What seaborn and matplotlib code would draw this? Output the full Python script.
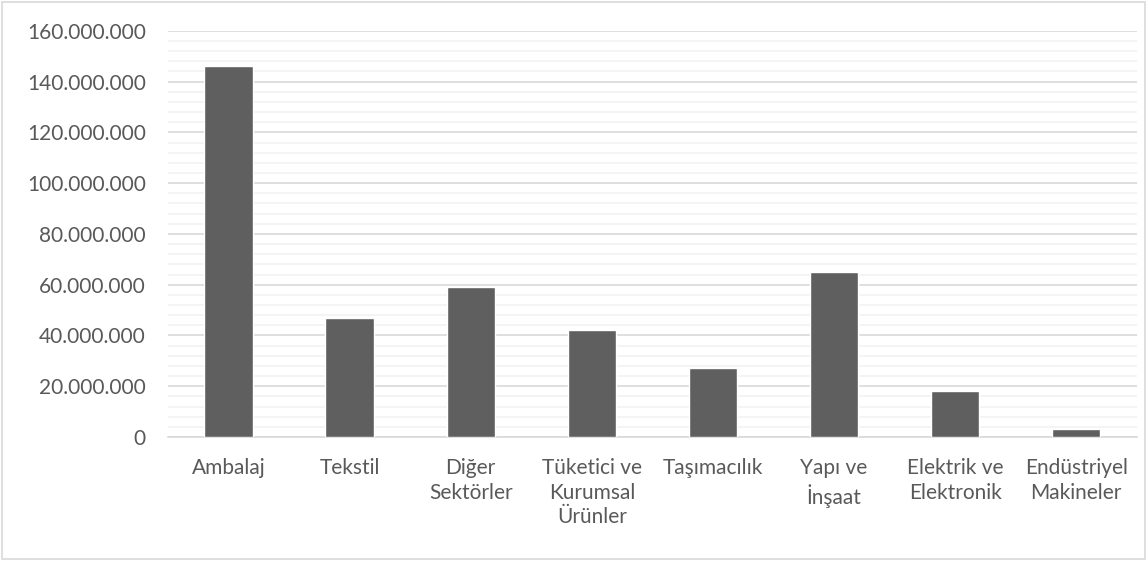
import matplotlib
matplotlib.use("Agg")
import matplotlib.pyplot as plt
import matplotlib.patches as mpatches
from matplotlib.ticker import MultipleLocator, FuncFormatter
import seaborn as sns
import pandas as pd

categories = [
    "Ambalaj",
    "Tekstil",
    "Diğer\nSektörler",
    "Tüketici ve\nKurumsal\nÜrünler",
    "Taşımacılık",
    "Yapı ve\nİnşaat",
    "Elektrik ve\nElektronik",
    "Endüstriyel\nMakineler",
]
values = [146_000_000, 47_000_000, 59_000_000, 42_000_000,
          27_000_000, 65_000_000, 18_000_000, 3_000_000]

df = pd.DataFrame({"Sektor": categories, "Deger": values})

sns.set_theme(style="white")
plt.rcParams["font.family"] = ["Lato", "DejaVu Sans"]

fig = plt.figure(figsize=(11.47, 5.61), dpi=100)
ax = fig.add_axes([0.1465, 0.221, 0.8445, 0.724])

sns.barplot(data=df, x="Sektor", y="Deger", color="#5f5f5f", width=0.4,
            saturation=1, ax=ax, zorder=3)

ax.set_ylim(0, 160_000_000)
ax.set_xlim(-0.5, len(categories) - 0.5)
ax.yaxis.set_major_locator(MultipleLocator(20_000_000))
ax.yaxis.set_minor_locator(MultipleLocator(4_000_000))
ax.yaxis.set_major_formatter(FuncFormatter(lambda v, p: f"{int(v):,}".replace(",", ".")))
ax.grid(axis="y", which="major", color="#d9d9d9", linewidth=1.2, zorder=0)
ax.grid(axis="y", which="minor", color="#f2f2f2", linewidth=1.2, zorder=0)
ax.set_axisbelow(True)
for s in ["top", "right", "left"]:
    ax.spines[s].set_visible(False)
ax.spines["bottom"].set_color("#d9d9d9")
ax.spines["bottom"].set_linewidth(1.2)
ax.tick_params(axis="both", which="both", length=0, labelsize=15,
               labelcolor="#595959")
ax.tick_params(axis="y", pad=16)
ax.tick_params(axis="x", pad=15)
for lbl in ax.get_xticklabels():
    lbl.set_linespacing(1.3)
    lbl.set_horizontalalignment("center")
ax.set_xlabel("")
ax.set_ylabel("")

fig.patches.append(mpatches.Rectangle((0.002, 0.003), 0.996, 0.994,
                                      transform=fig.transFigure, fill=False,
                                      edgecolor="#d9d9d9", linewidth=1.2))

fig.savefig("out.png", dpi=100)
